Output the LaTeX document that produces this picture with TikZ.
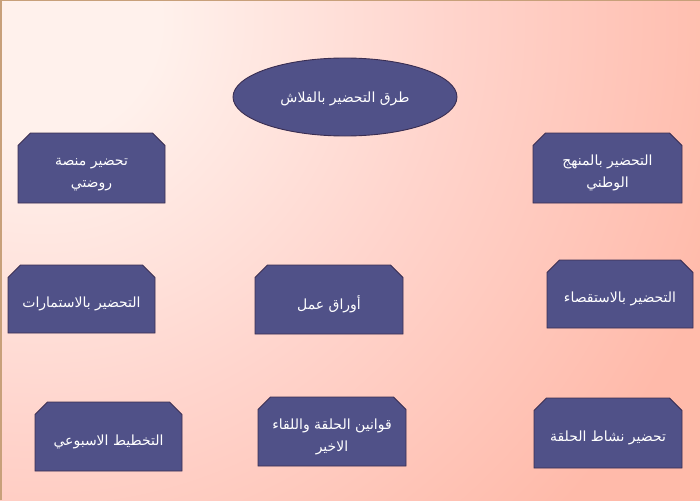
\documentclass[tikz,border=0pt]{standalone}
\usepackage{fontspec}
\newfontfamily\arabicfont[Script=Arabic]{DejaVu Sans}
\TeXXeTstate=1
\usetikzlibrary{shapes.misc,shapes.geometric}
\definecolor{boxfill}{RGB}{80,81,136}
\definecolor{boxline}{RGB}{58,46,82}
\definecolor{bglight}{RGB}{255,241,236}
\definecolor{bgmid}{RGB}{255,212,204}
\definecolor{bgdark}{RGB}{255,186,170}
\definecolor{frameline}{RGB}{200,160,122}
\pgfdeclareradialshading{bgshade}{\pgfpoint{0bp}{0bp}}{color(0bp)=(bglight); color(3.5bp)=(bglight); color(12bp)=(bgmid); color(21bp)=(bgdark); color(50bp)=(bgdark)}
\tikzset{
  snipbox/.style={chamfered rectangle, chamfered rectangle corners={north east,north west},
    chamfered rectangle xsep=6pt, chamfered rectangle ysep=6.5pt,
    draw=boxline, line width=0.9pt, fill=boxfill, inner sep=0pt,
    text=white, font=\arabicfont\fontsize{14}{22}\selectfont, align=center},
  ovalbox/.style={ellipse, draw=boxline, line width=0.9pt, fill=boxfill, inner sep=0pt,
    text=white, font=\arabicfont\fontsize{14}{22}\selectfont,
    minimum width=224pt, minimum height=78pt}
}
\newcommand{\rtl}[1]{\beginR #1\endR}
\newcommand{\onel}[1]{\raisebox{-5pt}[\height][\depth]{\rtl{#1}}}
\newcommand{\twol}[2]{\raisebox{-4.5pt}[\height][\depth]{\begin{tabular}{@{}c@{}}\rtl{#1}\\\rtl{#2}\end{tabular}}}
\begin{document}
\begin{tikzpicture}[x=1pt,y=-1pt]
\useasboundingbox (0,0) rectangle (700,500);
\begin{scope}
\clip (0,0) rectangle (700,500);
\shade[shading=bgshade] (40,20) circle (850);
\end{scope}
\draw[frameline, line width=1.5pt] (0.75,500) -- (0.75,0.75) -- (700,0.75);

\node[ovalbox] (title) at (345,97) {\raisebox{-2pt}[\height][\depth]{\rtl{طرق التحضير بالفلاش}}};

\node[snipbox, minimum width=147pt, minimum height=70pt] (rawdati) at (91.5,168)
  {\twol{تحضير منصة}{روضتي}};
\node[snipbox, minimum width=149pt, minimum height=70pt] (manhaj) at (607.5,168)
  {\twol{التحضير بالمنهج}{الوطني}};
\node[snipbox, minimum width=147pt, minimum height=68pt] (istimarat) at (81.5,299)
  {\onel{التحضير بالاستمارات}};
\node[snipbox, minimum width=148pt, minimum height=69pt] (awraq) at (329,299.5)
  {\onel{أوراق عمل}};
\node[snipbox, minimum width=146pt, minimum height=68pt] (istiqsa) at (620,294)
  {\onel{التحضير بالاستقصاء}};
\node[snipbox, minimum width=147pt, minimum height=69pt] (takhtit) at (108.5,436.5)
  {\onel{التخطيط الاسبوعي}};
\node[snipbox, minimum width=148pt, minimum height=69pt] (qawanin) at (332,431.5)
  {\twol{قوانين الحلقة واللقاء}{الاخير}};
\node[snipbox, minimum width=148pt, minimum height=70pt] (nashat) at (608,433)
  {\onel{تحضير نشاط الحلقة}};
\end{tikzpicture}
\end{document}
